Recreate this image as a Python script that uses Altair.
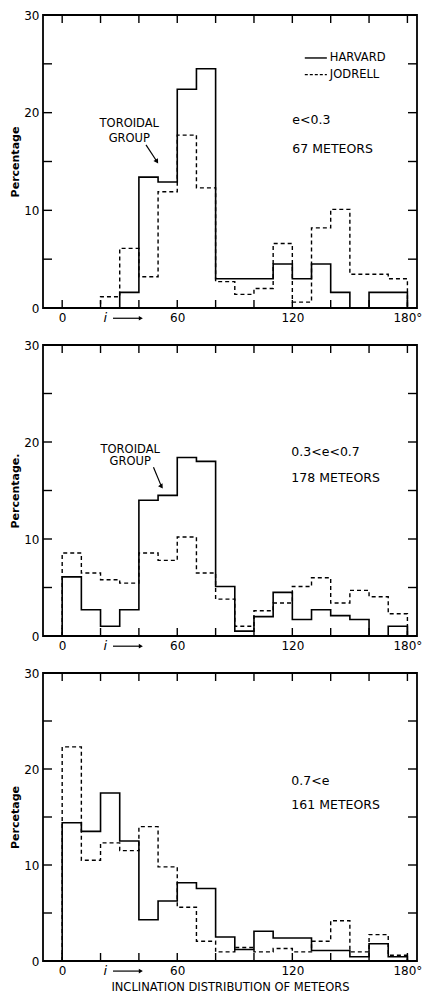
import altair as alt
import pandas as pd

FONT = "DejaVu Sans"
W = 374

bin_starts = list(range(0, 180, 10))

harvard_1 = [0, 0, 0, 1.6, 13.4, 12.9, 22.4, 24.5, 3.0, 3.0, 3.0, 4.5, 3.0, 4.5, 1.6, 0, 1.6, 1.6]
jodrell_1 = [0, 0, 1.15, 6.1, 3.2, 11.9, 17.7, 12.3, 2.7, 1.4, 2.0, 6.6, 0.6, 8.2, 10.1, 3.45, 3.45, 3.0]

harvard_2 = [6.1, 2.7, 1.0, 2.7, 14.0, 14.5, 18.4, 18.0, 5.1, 0.5, 2.0, 4.5, 1.7, 2.7, 2.1, 1.7, 0, 1.0]
jodrell_2 = [8.55, 6.5, 5.8, 5.45, 8.55, 7.8, 10.2, 6.5, 3.8, 1.0, 2.6, 3.4, 5.1, 6.0, 3.4, 4.7, 4.05, 2.3]

harvard_3 = [14.4, 13.5, 17.5, 12.5, 4.3, 6.25, 8.15, 7.55, 2.5, 1.2, 3.1, 2.4, 2.4, 1.1, 1.1, 0.45, 1.8, 0.45]
jodrell_3 = [22.3, 10.5, 12.3, 11.5, 14.0, 9.8, 5.6, 2.05, 0.95, 1.4, 0.95, 1.3, 0.95, 2.05, 4.2, 0.95, 2.75, 0.6]

x_tick_values = [0, 60, 120, 180]
x_minor_ticks = list(range(0, 181, 20))
y_tick_values = [0, 10, 20, 30]
y_minor_ticks = list(range(0, 31, 5))

panel_labels = [("e<0.3", "67 METEORS"), ("0.3<e<0.7", "178 METEORS"), ("0.7<e", "161 METEORS")]
y_titles = ["Percentage", "Percentage.", "Percetage"]
x_title = "INCLINATION DISTRIBUTION OF METEORS"
legend_names = ["HARVARD", "JODRELL"]


def step_frame(vals, series):
    rows = [{"x": 0, "y": 0, "series": series, "o": 0}]
    for k, (s, v) in enumerate(zip(bin_starts, vals)):
        rows.append({"x": s, "y": v, "series": series, "o": k + 1})
    rows.append({"x": 180, "y": vals[-1], "series": series, "o": len(vals) + 1})
    rows.append({"x": 180, "y": 0, "series": series, "o": len(vals) + 2})
    return rows


def panel(h, j, labels, ytitle, height, with_xtitle=False, legend=False, toroidal=None, lab_pos=(119.5, 19.0, 16.3)):
    df = pd.DataFrame(step_frame(h, "HARVARD") + step_frame(j, "JODRELL"))
    xscale = alt.Scale(domain=[-10, 185], nice=False, zero=False)
    yscale = alt.Scale(domain=[0, 30], nice=False)
    xaxis = alt.Axis(values=x_tick_values, ticks=False, domain=False, grid=False,
                     labelExpr="datum.value == 180 ? '180°' : datum.label",
                     labelFontSize=12, labelPadding=4, labelFont=FONT, labelColor="black",
                     title=x_title if with_xtitle else None,
                     titleFontSize=11.5, titleFontWeight="normal", titleFont=FONT, titlePadding=5,
                     titleColor="black")
    yaxis = alt.Axis(values=y_tick_values, ticks=False, domain=False, grid=False,
                     labelFontSize=12, labelPadding=4, labelFont=FONT, labelColor="black",
                     title=ytitle, titleFontSize=11, titleFontWeight="bold", titleFont=FONT,
                     titlePadding=3, titleColor="black")
    base = alt.Chart(df)
    harv = base.transform_filter(alt.datum.series == "HARVARD").mark_line(
        interpolate="step-after", color="black", strokeWidth=1.6
    ).encode(x=alt.X("x:Q", scale=xscale, axis=xaxis), y=alt.Y("y:Q", scale=yscale, axis=yaxis), order="o:Q")
    jod = base.transform_filter(alt.datum.series == "JODRELL").mark_line(
        interpolate="step-after", color="black", strokeWidth=1.4, strokeDash=[4, 3]
    ).encode(x="x:Q", y="y:Q", order="o:Q")

    xt = alt.Chart(pd.DataFrame({"x": x_minor_ticks}))
    top_ticks = xt.mark_rule(color="black", strokeWidth=1.4).encode(x="x:Q", y=alt.value(0), y2=alt.value(8))
    bot_ticks = xt.mark_rule(color="black", strokeWidth=1.4).encode(x="x:Q", y=alt.value(height), y2=alt.value(height - 8))
    yt = alt.Chart(pd.DataFrame({"y": y_minor_ticks}))
    left_ticks = yt.mark_rule(color="black", strokeWidth=1.4).encode(y="y:Q", x=alt.value(0), x2=alt.value(9))
    right_ticks = yt.mark_rule(color="black", strokeWidth=1.4).encode(y="y:Q", x=alt.value(W), x2=alt.value(W - 9))

    lx, ly1, ly2 = lab_pos
    tdf = pd.DataFrame({"x": [lx, lx], "y": [ly1, ly2], "t": list(labels)})
    texts = alt.Chart(tdf).mark_text(align="left", baseline="middle", fontSize=12.5, font=FONT, color="black").encode(
        x="x:Q", y="y:Q", text="t:N")

    idf = pd.DataFrame({"x": [22.5], "y": [-1.05], "t": ["i"]})
    i_text = alt.Chart(idf).mark_text(align="center", baseline="middle", fontSize=13, font=FONT,
                                      fontStyle="italic", color="black").encode(x="x:Q", y="y:Q", text="t:N")
    adf = pd.DataFrame({"x": [26.5], "x2": [41.0], "y": [-1.05]})
    arr_line = alt.Chart(adf).mark_rule(color="black", strokeWidth=1.2).encode(x="x:Q", x2="x2:Q", y="y:Q")
    arr_head = alt.Chart(adf).mark_point(shape="triangle-right", filled=True, color="black", size=22, opacity=1).encode(
        x="x2:Q", y="y:Q")

    layers = [harv, jod, top_ticks, bot_ticks, left_ticks, right_ticks, texts, i_text, arr_line, arr_head]

    if legend:
        ldf = pd.DataFrame({"x": [126.5, 126.5], "x2": [138, 138], "y": [25.6, 23.9], "t": legend_names})
        l1 = alt.Chart(ldf).transform_filter(alt.datum.t == "HARVARD").mark_rule(color="black", strokeWidth=1.4).encode(
            x="x:Q", x2="x2:Q", y="y:Q")
        l2 = alt.Chart(ldf).transform_filter(alt.datum.t == "JODRELL").mark_rule(
            color="black", strokeWidth=1.4, strokeDash=[3, 2]).encode(x="x:Q", x2="x2:Q", y="y:Q")
        ltxt = alt.Chart(ldf).mark_text(align="left", baseline="middle", dx=3, fontSize=11.5, font=FONT,
                                        color="black").encode(x="x2:Q", y="y:Q", text="t:N")
        layers += [l1, l2, ltxt]

    if toroidal is not None:
        tx, ty1, ty2, ax1, ay1, ax2, ay2 = toroidal
        gdf = pd.DataFrame({"x": [tx, tx], "y": [ty1, ty2], "t": ["TOROIDAL", "GROUP"]})
        gtxt = alt.Chart(gdf).mark_text(align="center", baseline="middle", fontSize=11.5, font=FONT,
                                        color="black").encode(x="x:Q", y="y:Q", text="t:N")
        ardf = pd.DataFrame({"x": [ax1], "y": [ay1], "x2": [ax2], "y2": [ay2]})
        aline = alt.Chart(ardf).mark_rule(color="black", strokeWidth=1.2).encode(
            x="x:Q", y="y:Q", x2="x2:Q", y2="y2:Q")
        ahead = alt.Chart(ardf).mark_point(shape="triangle-up", angle=147, filled=True, color="black",
                                           size=28, opacity=1).encode(x="x2:Q", y="y2:Q")
        layers += [gtxt, aline, ahead]

    return alt.layer(*layers).properties(width=W, height=height)


p1 = panel(harvard_1, jodrell_1, panel_labels[0], y_titles[0], 293, legend=True,
           toroidal=(35.0, 18.8, 17.3, 43.7, 16.7, 49.4, 15.0), lab_pos=(120, 19.2, 16.3))
p2 = panel(harvard_2, jodrell_2, panel_labels[1], y_titles[1], 291,
           toroidal=(35.5, 19.2, 17.9, 47.6, 17.4, 51.8, 15.4), lab_pos=(119.5, 19.0, 16.3))
p3 = panel(harvard_3, jodrell_3, panel_labels[2], y_titles[2], 288, with_xtitle=True,
           lab_pos=(119.5, 18.7, 16.3))

chart = alt.vconcat(p1, p2, p3, spacing=11, background="white").properties(
    padding={"left": 0, "top": 0, "right": 0, "bottom": 0}
).configure_view(stroke="black", strokeWidth=1.8)

chart.save("out.html", embed_options={"renderer": "svg", "actions": False})
